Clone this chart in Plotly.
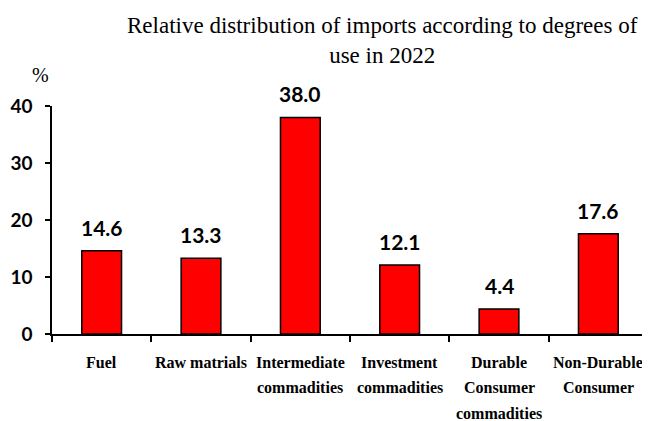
import plotly.graph_objects as go

categories = ["Fuel", "Raw matrials", "Intermediate commadities", "Investment commadities",
              "Durable Consumer commadities", "Non-Durable Consumer"]
label_lines = [["Fuel"], ["Raw matrials"], ["Intermediate", "commadities"],
               ["Investment", "commadities"], ["Durable", "Consumer", "commadities"],
               ["Non-Durable", "Consumer"]]
values = [14.6, 13.3, 38.0, 12.1, 4.4, 17.6]
y_ticks = [0, 10, 20, 30, 40]
title_text = "Relative distribution of imports according to degrees of<br>use in 2022"

fig = go.Figure(go.Bar(
    x=categories, y=values,
    marker=dict(color="#FF0000", line=dict(color="black", width=1.5)),
))

annotations = []
for c, v in zip(categories, values):
    annotations.append(dict(x=c, y=v, xref="x", yref="y", text=f"{v:.1f}", showarrow=False,
                            yanchor="bottom", yshift=9,
                            font=dict(family="Lato", size=21, color="black", weight="bold")))
for c, lines in zip(categories, label_lines):
    for i, ln in enumerate(lines):
        annotations.append(dict(x=c, y=0, xref="x", yref="paper", text=ln, showarrow=False,
                                yanchor="middle", yshift=-28 - 25.5 * i,
                                font=dict(family="Liberation Serif", size=16, color="black", weight="bold")))
annotations.append(dict(x=0, y=1, xref="paper", yref="paper", text="%", showarrow=False,
                        xanchor="center", xshift=-12, yshift=31, yanchor="middle",
                        font=dict(family="Liberation Serif", size=20, color="black")))
annotations.append(dict(x=0.555, y=1, xref="paper", yref="paper", text=title_text, showarrow=False,
                        xanchor="center", yanchor="middle", yshift=66,
                        font=dict(family="Liberation Serif", size=23, color="black")))

fig.update_layout(
    width=642, height=413,
    margin=dict(l=44, r=2, t=98, b=87),
    paper_bgcolor="white", plot_bgcolor="white",
    showlegend=False,
    bargap=0.6,
    xaxis=dict(showline=True, linecolor="black", linewidth=1.5, ticks="outside",
               tickson="boundaries", ticklen=6, tickwidth=1.5, tickcolor="black",
               showticklabels=False, showgrid=False, zeroline=False),
    yaxis=dict(range=[0, 40], tickvals=y_ticks, showline=True, linecolor="black", linewidth=1.5,
               ticks="outside", ticklen=5, tickwidth=1.5, tickcolor="black",
               showgrid=False, zeroline=False, ticklabelstandoff=9,
               tickfont=dict(family="Lato", size=19, color="black", weight="bold")),
    annotations=annotations,
)

fig.write_html("out.html")
